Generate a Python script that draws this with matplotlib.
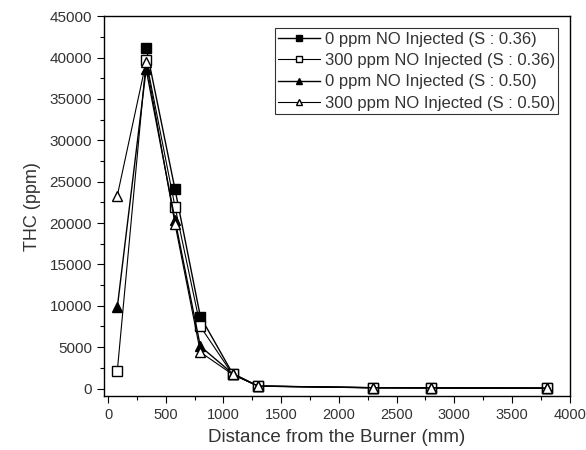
import matplotlib
matplotlib.use("Agg")
import matplotlib.pyplot as plt
from matplotlib.ticker import MultipleLocator

plt.rcParams['font.family'] = ['Liberation Sans', 'DejaVu Sans']

distance = [80, 330, 580, 800, 1080, 1300, 2300, 2800, 3800]
s1_x = [330, 580, 800, 1080, 1300, 2300, 2800, 3800]
s1_y = [41200, 24100, 8700, 1800, 300, 100, 80, 50]
s2 = [2100, 39700, 22000, 7500, 1700, 300, 100, 80, 50]
s3 = [9800, 38600, 20400, 5100, 1800, 300, 100, 80, 50]
s4 = [23300, 39500, 19900, 4400, 1700, 300, 100, 80, 50]

labels = ["0 ppm NO Injected (S : 0.36)",
          "300 ppm NO Injected (S : 0.36)",
          "0 ppm NO Injected (S : 0.50)",
          "300 ppm NO Injected (S : 0.50)"]

fig = plt.figure(figsize=(5.86, 4.5), dpi=100)
ax = fig.add_axes([0.1775, 0.12, 0.7945, 0.844])

txt = '#333333'
ax.plot(s1_x, s1_y, '-', color='black', lw=1.0, marker='s', ms=7,
        mfc='black', mec='black', label=labels[0])
ax.plot(distance, s2, '-', color='black', lw=0.8, marker='s', ms=7,
        mfc='white', mec='black', mew=1.0, label=labels[1])
ax.plot(distance, s3, '-', color='black', lw=1.0, marker='^', ms=7.5,
        mfc='black', mec='black', label=labels[2])
ax.plot(distance, s4, '-', color='black', lw=0.8, marker='^', ms=7.5,
        mfc='white', mec='black', mew=1.0, label=labels[3])

ax.set_xlim(-35, 4000)
ax.set_ylim(-900, 45000)
ax.xaxis.set_major_locator(MultipleLocator(500))
ax.xaxis.set_minor_locator(MultipleLocator(250))
ax.yaxis.set_major_locator(MultipleLocator(5000))
ax.yaxis.set_minor_locator(MultipleLocator(2500))
ax.tick_params(which='both', direction='out', top=False, right=False,
               colors='black', labelcolor=txt, labelsize=11)
ax.tick_params(axis='x', labelsize=10.5)
ax.tick_params(which='major', length=5, width=0.8)
ax.tick_params(which='minor', length=3, width=0.8)
for sp in ax.spines.values():
    sp.set_linewidth(1.0)

ax.set_xlabel("Distance from the Burner (mm)", fontsize=13.5, color=txt, labelpad=5)
ax.set_ylabel("THC (ppm)", fontsize=13, color=txt, labelpad=6)

leg = ax.legend(loc='upper right', bbox_to_anchor=(0.976, 0.968), fontsize=12,
                frameon=True, fancybox=False, edgecolor='black',
                handlelength=2.5, handletextpad=0.3, borderpad=0.2,
                labelspacing=0.38, borderaxespad=0)
leg.get_frame().set_linewidth(0.8)
for t in leg.get_texts():
    t.set_color(txt)
for h in leg.legend_handles:
    h.set_markersize(5)

fig.savefig("out.png", dpi=100)
